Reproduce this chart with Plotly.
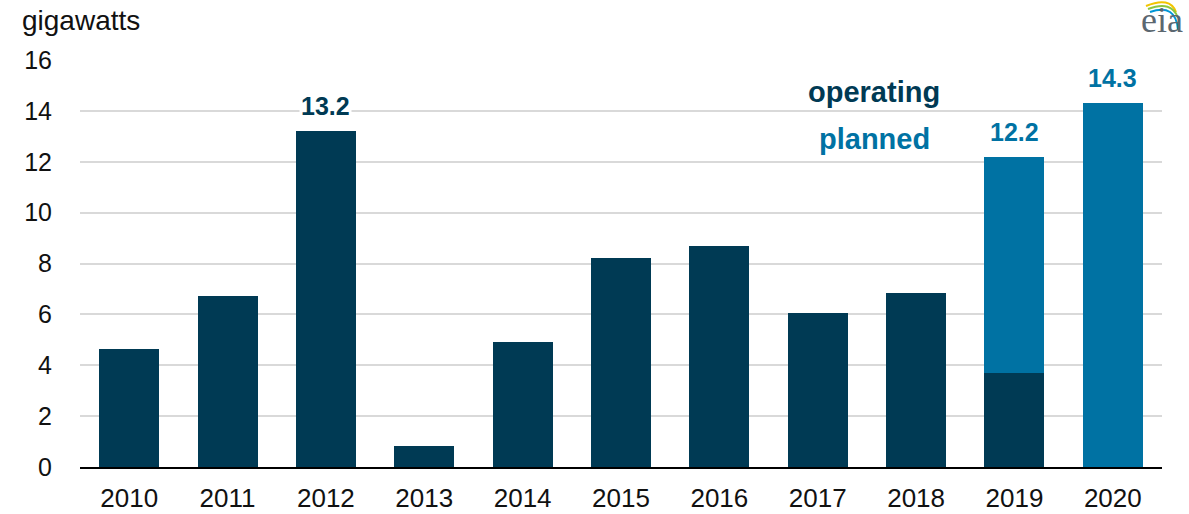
import plotly.graph_objects as go

years = ["2010", "2011", "2012", "2013", "2014", "2015", "2016", "2017", "2018", "2019", "2020"]
operating = [4.63, 6.72, 13.2, 0.83, 4.9, 8.2, 8.7, 6.05, 6.85, 3.7, None]
planned = [None, None, None, None, None, None, None, None, None, 8.5, 14.3]
label_years = ["2012", "2019", "2020"]
label_values = [13.2, 12.2, 14.3]
y_ticks = [0, 2, 4, 6, 8, 10, 12, 14, 16]

NAVY = "#003A54"
BLUE = "#0072A3"
FONT = "Liberation Sans, Arial, sans-serif"

W, H = 1189, 514
ML, MR, MT, MB = 80, 27, 60, 47
PW = W - ML - MR
PH = H - MT - MB


def px(x):
    return (x - ML) / PW


def py(y):
    return (H - MB - y) / PH


fig = go.Figure()
fig.add_trace(go.Bar(x=years, y=operating, name="operating", marker=dict(color=NAVY, line=dict(width=0))))
fig.add_trace(go.Bar(x=years, y=planned, name="planned", marker=dict(color=BLUE, line=dict(width=0))))

ann = []
for yr, v in zip(label_years, label_values):
    col = NAVY if yr == "2012" else BLUE
    ann.append(dict(x=years.index(yr), y=v, xref="x", yref="y", text="<b>%.1f</b>" % v, showarrow=False,
                    yanchor="bottom", yshift=9, bgcolor="white", borderpad=1,
                    font=dict(family=FONT, size=25, color=col)))

ann.append(dict(x=px(874), y=py(92), xref="paper", yref="paper", text="<b>operating</b>", showarrow=False,
                xanchor="center", yanchor="middle", font=dict(family=FONT, size=29, color=NAVY)))
ann.append(dict(x=px(874), y=py(139), xref="paper", yref="paper", text="<b>planned</b>", showarrow=False,
                xanchor="center", yanchor="middle", font=dict(family=FONT, size=29, color=BLUE)))
ann.append(dict(x=px(20), y=py(20), xref="paper", yref="paper", text="gigawatts", showarrow=False,
                xanchor="left", yanchor="middle", font=dict(family=FONT, size=28, color="#111111")))
ann.append(dict(x=px(25), y=py(2), xref="paper", yref="paper",
                text="<b>U.S. utility-scale wind electric generating capacity additions by year (2010-2020)</b>",
                showarrow=False, xanchor="left", yanchor="bottom", font=dict(family=FONT, size=25, color="#111111")))
ann.append(dict(x=px(1162), y=py(20), xref="paper", yref="paper", text="eia", showarrow=False,
                xanchor="center", yanchor="middle", font=dict(family="Liberation Serif, serif", size=36, color="#5b6770")))


def arc_path(x0, y0, cx, cy, x1, y1):
    return "M %f,%f Q %f,%f %f,%f" % (px(x0), py(y0), px(cx), py(cy), px(x1), py(y1))


shapes = [
    dict(type="path", xref="paper", yref="paper", path=arc_path(1146, 6, 1170, -4, 1176, 12), line=dict(color="#F2C500", width=2)),
    dict(type="path", xref="paper", yref="paper", path=arc_path(1148, 9, 1172, 0, 1178, 18), line=dict(color="#8DC63F", width=2)),
    dict(type="path", xref="paper", yref="paper", path=arc_path(1150, 12, 1176, 3, 1178, 30), line=dict(color="#0096D6", width=2)),
]

fig.update_layout(
    width=W, height=H,
    margin=dict(l=ML, r=MR, t=MT, b=MB, pad=0, autoexpand=False),
    paper_bgcolor="white", plot_bgcolor="white",
    barmode="stack", bargap=0.39, showlegend=False,
    annotations=ann, shapes=shapes,
    font=dict(family=FONT, color="#111111"),
    xaxis=dict(type="category", range=[-0.5, 10.5], showgrid=False, showline=True, linecolor="#000000",
               linewidth=2, ticks="", automargin=False,
               tickfont=dict(family=FONT, size=26, color="#111111"), ticklabelstandoff=7),
    yaxis=dict(range=[0, 16], tickvals=y_ticks, showgrid=True, gridcolor="#D9D9D9", gridwidth=2,
               zeroline=False, showline=False, ticks="", automargin=False,
               tickfont=dict(family=FONT, size=25, color="#111111"), ticklabelstandoff=27),
)

fig.write_html("out.html", config={"displayModeBar": False},
               post_script="document.body.style.margin='0';document.body.style.overflow='hidden';")
